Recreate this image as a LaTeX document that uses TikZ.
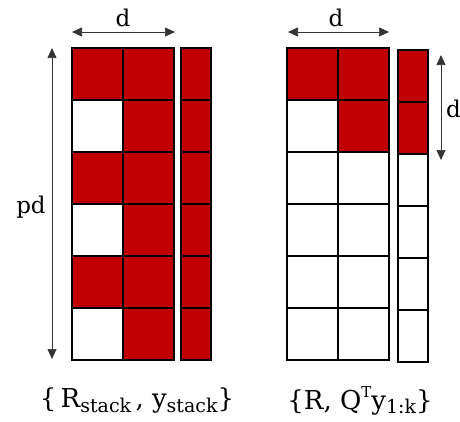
\documentclass[tikz,border=0pt]{standalone}
\usepackage{fontspec}
\setmainfont{DejaVu Serif}
\usetikzlibrary{arrows.meta}
\definecolor{cellred}{RGB}{192,0,0}
\tikzset{
  cell/.style={draw=black, line width=1.6pt},
  redcell/.style={cell, fill=cellred},
  dimarrow/.style={draw=black!80, line width=0.7pt, {Triangle[length=10pt,width=9pt]}-{Triangle[length=10pt,width=9pt]}},
  lbl/.style={inner sep=0pt, font=\fontsize{23}{27}\selectfont},
  sublbl/.style={inner sep=0pt, font=\fontsize{26}{30}\selectfont}
}
\newcommand{\sbs}[1]{\raisebox{-0.3ex}{\fontsize{19}{22}\selectfont #1}}
\begin{document}
\begin{tikzpicture}[x=1pt,y=-1pt]
\useasboundingbox (0,0) rectangle (460,421);
% left matrix (6 rows x 2 cols) and vector
\foreach \r/\a in {0/1,1/0,2/1,3/0,4/1,5/0}{
  \pgfmathsetmacro{\yt}{48+52*\r}
  \pgfmathsetmacro{\yb}{100+52*\r}
  \ifnum\a=1
    \draw[redcell] (72,\yt) rectangle (123,\yb);
  \else
    \draw[cell, fill=white] (72,\yt) rectangle (123,\yb);
  \fi
  \draw[redcell] (123,\yt) rectangle (174,\yb);
  \draw[redcell] (181,\yt) rectangle (211,\yb);
}
% right matrix and vector
\foreach \r in {0,...,5}{
  \pgfmathsetmacro{\yt}{48+52*\r}
  \pgfmathsetmacro{\yb}{100+52*\r}
  \pgfmathsetmacro{\vt}{50+52*\r}
  \pgfmathsetmacro{\vb}{102+52*\r}
  \ifnum\r=0
    \draw[redcell] (287,\yt) rectangle (338,\yb);
    \draw[redcell] (338,\yt) rectangle (389,\yb);
    \draw[redcell] (398,\vt) rectangle (428,\vb);
  \else\ifnum\r=1
    \draw[cell, fill=white] (287,\yt) rectangle (338,\yb);
    \draw[redcell] (338,\yt) rectangle (389,\yb);
    \draw[redcell] (398,\vt) rectangle (428,\vb);
  \else
    \draw[cell, fill=white] (287,\yt) rectangle (338,\yb);
    \draw[cell, fill=white] (338,\yt) rectangle (389,\yb);
    \draw[cell, fill=white] (398,\vt) rectangle (428,\vb);
  \fi\fi
}
% dimension arrows
\coordinate (la1) at (72,32);
\coordinate (la2) at (175,32);
\draw[dimarrow] (la1) -- (la2);
\node[lbl] (ld) at (123,18) {d};
\coordinate (lv1) at (52,48);
\coordinate (lv2) at (52,359);
\draw[dimarrow] (lv1) -- (lv2);
\node[lbl] (lpd) at (31,207) {pd};
\coordinate (ra1) at (288,32);
\coordinate (ra2) at (389,32);
\draw[dimarrow] (ra1) -- (ra2);
\node[lbl] (rd) at (336,18) {d};
\coordinate (rv1) at (441,55);
\coordinate (rv2) at (441,160);
\draw[dimarrow] (rv1) -- (rv2);
\node[lbl, anchor=west] (rdd) at (446,109) {d};
% bottom labels
\node[sublbl] (leftlbl) at (137,401) {\{\,R\sbs{stack}\,, y\sbs{stack}\}};
\node[sublbl] (rightlbl) at (360,401) {\{R, Q\raisebox{0.85ex}{\fontsize{15}{17}\selectfont T}y\sbs{1:k}\}};
\end{tikzpicture}
\end{document}
